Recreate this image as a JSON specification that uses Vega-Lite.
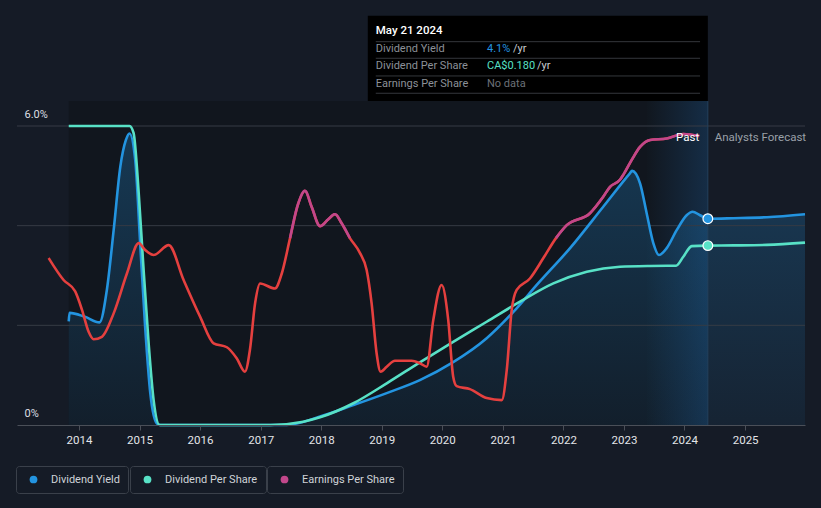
{
  "$schema": "https://vega.github.io/schema/vega-lite/v6.json",
  "width": 788,
  "height": 299,
  "autosize": {"type": "none"},
  "padding": {"left": 17, "top": 126, "right": 16, "bottom": 83},
  "background": "#151b26",
  "config": {"view": {"stroke": null}, "font": "Roboto", "text": {"font": "Roboto"}},
  "datasets": {
    "yield": [
      {"date": "2013-10-31", "yield": 2.08},
      {"date": "2013-11-05", "yield": 2.25},
      {"date": "2014-02-06", "yield": 2.17},
      {"date": "2014-05-05", "yield": 2.06},
      {"date": "2014-06-18", "yield": 2.71},
      {"date": "2014-07-29", "yield": 3.91},
      {"date": "2014-09-07", "yield": 5.18},
      {"date": "2014-10-11", "yield": 5.72},
      {"date": "2014-11-02", "yield": 5.85},
      {"date": "2014-12-06", "yield": 5.32},
      {"date": "2015-01-05", "yield": 3.65},
      {"date": "2015-02-04", "yield": 1.97},
      {"date": "2015-03-07", "yield": 0.64},
      {"date": "2015-04-16", "yield": 0.03},
      {"date": "2015-05-06", "yield": 0},
      {"date": "2016-01-01", "yield": 0},
      {"date": "2017-01-01", "yield": 0},
      {"date": "2017-06-07", "yield": 0},
      {"date": "2017-12-25", "yield": 0.17},
      {"date": "2018-07-14", "yield": 0.4},
      {"date": "2019-01-31", "yield": 0.64},
      {"date": "2019-08-19", "yield": 0.9},
      {"date": "2020-03-07", "yield": 1.26},
      {"date": "2020-09-25", "yield": 1.74},
      {"date": "2021-03-05", "yield": 2.27},
      {"date": "2021-07-24", "yield": 2.81},
      {"date": "2022-02-10", "yield": 3.55},
      {"date": "2022-08-29", "yield": 4.38},
      {"date": "2023-02-06", "yield": 5.05},
      {"date": "2023-02-19", "yield": 5.1},
      {"date": "2023-04-08", "yield": 4.85},
      {"date": "2023-05-18", "yield": 4.25},
      {"date": "2023-06-27", "yield": 3.65},
      {"date": "2023-07-31", "yield": 3.41},
      {"date": "2023-09-16", "yield": 3.55},
      {"date": "2023-11-15", "yield": 3.91},
      {"date": "2024-01-14", "yield": 4.21},
      {"date": "2024-02-19", "yield": 4.28},
      {"date": "2024-04-04", "yield": 4.21},
      {"date": "2024-05-21", "yield": 4.14},
      {"date": "2024-10-22", "yield": 4.15},
      {"date": "2025-05-12", "yield": 4.17},
      {"date": "2025-12-28", "yield": 4.23}
    ],
    "dps": [
      {"date": "2013-10-31", "dps": 0.3},
      {"date": "2014-11-02", "dps": 0.3},
      {"date": "2014-11-26", "dps": 0.293},
      {"date": "2014-12-27", "dps": 0.233},
      {"date": "2015-01-22", "dps": 0.165},
      {"date": "2015-02-25", "dps": 0.082},
      {"date": "2015-03-27", "dps": 0.025},
      {"date": "2015-05-02", "dps": 0},
      {"date": "2016-01-01", "dps": 0},
      {"date": "2017-03-01", "dps": 0},
      {"date": "2017-09-15", "dps": 0.0033},
      {"date": "2017-12-25", "dps": 0.0077},
      {"date": "2018-07-14", "dps": 0.0218},
      {"date": "2019-01-31", "dps": 0.0418},
      {"date": "2019-08-19", "dps": 0.0629},
      {"date": "2020-03-07", "dps": 0.0835},
      {"date": "2020-09-25", "dps": 0.1036},
      {"date": "2021-04-14", "dps": 0.1237},
      {"date": "2021-11-01", "dps": 0.1421},
      {"date": "2022-05-22", "dps": 0.1538},
      {"date": "2022-12-08", "dps": 0.1588},
      {"date": "2023-06-07", "dps": 0.1596},
      {"date": "2023-11-11", "dps": 0.1598},
      {"date": "2023-12-25", "dps": 0.1688},
      {"date": "2024-02-14", "dps": 0.1795},
      {"date": "2024-05-21", "dps": 0.18},
      {"date": "2024-10-22", "dps": 0.1802},
      {"date": "2025-05-12", "dps": 0.1807},
      {"date": "2025-12-28", "dps": 0.183}
    ],
    "eps": [
      {"date": "2013-07-02", "eps": 3.35},
      {"date": "2013-09-30", "eps": 2.91},
      {"date": "2013-12-09", "eps": 2.68},
      {"date": "2014-01-19", "eps": 2.31},
      {"date": "2014-02-28", "eps": 1.87},
      {"date": "2014-03-30", "eps": 1.72},
      {"date": "2014-05-19", "eps": 1.77},
      {"date": "2014-07-29", "eps": 2.24},
      {"date": "2014-10-17", "eps": 3.04},
      {"date": "2014-12-27", "eps": 3.65},
      {"date": "2015-02-04", "eps": 3.51},
      {"date": "2015-03-27", "eps": 3.41},
      {"date": "2015-06-26", "eps": 3.61},
      {"date": "2015-09-24", "eps": 2.91},
      {"date": "2016-01-02", "eps": 2.17},
      {"date": "2016-03-23", "eps": 1.64},
      {"date": "2016-06-11", "eps": 1.56},
      {"date": "2016-08-09", "eps": 1.34},
      {"date": "2016-09-28", "eps": 1.07},
      {"date": "2016-10-28", "eps": 1.51},
      {"date": "2016-11-28", "eps": 2.44},
      {"date": "2016-12-28", "eps": 2.84},
      {"date": "2017-03-28", "eps": 2.74},
      {"date": "2017-05-08", "eps": 3.04},
      {"date": "2017-06-27", "eps": 3.75},
      {"date": "2017-08-16", "eps": 4.45},
      {"date": "2017-09-25", "eps": 4.7},
      {"date": "2017-11-04", "eps": 4.38},
      {"date": "2017-12-25", "eps": 3.99},
      {"date": "2018-02-13", "eps": 4.13},
      {"date": "2018-03-25", "eps": 4.23},
      {"date": "2018-05-04", "eps": 4.05},
      {"date": "2018-06-23", "eps": 3.75},
      {"date": "2018-08-23", "eps": 3.45},
      {"date": "2018-10-02", "eps": 3.11},
      {"date": "2018-11-01", "eps": 2.44},
      {"date": "2018-12-01", "eps": 1.44},
      {"date": "2018-12-25", "eps": 1.07},
      {"date": "2019-01-31", "eps": 1.17},
      {"date": "2019-03-22", "eps": 1.29},
      {"date": "2019-06-30", "eps": 1.29},
      {"date": "2019-08-19", "eps": 1.24},
      {"date": "2019-09-29", "eps": 1.17},
      {"date": "2019-11-08", "eps": 2.11},
      {"date": "2019-12-28", "eps": 2.81},
      {"date": "2020-02-06", "eps": 2.11},
      {"date": "2020-03-07", "eps": 0.97},
      {"date": "2020-03-28", "eps": 0.78},
      {"date": "2020-06-16", "eps": 0.72},
      {"date": "2020-09-25", "eps": 0.54},
      {"date": "2020-12-25", "eps": 0.5},
      {"date": "2021-01-24", "eps": 1.1},
      {"date": "2021-02-23", "eps": 2.31},
      {"date": "2021-03-25", "eps": 2.71},
      {"date": "2021-06-13", "eps": 2.94},
      {"date": "2021-09-02", "eps": 3.35},
      {"date": "2021-11-17", "eps": 3.75},
      {"date": "2022-01-21", "eps": 4.01},
      {"date": "2022-06-10", "eps": 4.25},
      {"date": "2022-08-29", "eps": 4.58},
      {"date": "2022-10-09", "eps": 4.78},
      {"date": "2022-12-08", "eps": 4.92},
      {"date": "2022-12-28", "eps": 5.02},
      {"date": "2023-02-17", "eps": 5.32},
      {"date": "2023-04-08", "eps": 5.58},
      {"date": "2023-06-08", "eps": 5.72},
      {"date": "2023-09-16", "eps": 5.75},
      {"date": "2023-12-25", "eps": 5.84},
      {"date": "2024-03-30", "eps": 5.8}
    ]
  },
  "layer": [
    {
      "layer": [
        {
          "data": {"values": [{}]},
          "mark": {"type": "rect", "color": "#11161e"},
          "encoding": {
            "x": {"datum": {"year": 2013, "month": 10, "date": 31, "utc": true}, "type": "temporal"},
            "x2": {"datum": {"year": 2023, "month": 5, "date": 20, "utc": true}},
            "y": {"datum": 0, "type": "quantitative"},
            "y2": {"datum": 6.5}
          }
        },
        {
          "data": {"values": [{}]},
          "mark": {"type": "rect", "color": {"gradient": "linear", "x1": 0, "y1": 0, "x2": 1, "y2": 0, "stops": [{"offset": 0, "color": "#11171f"}, {"offset": 1, "color": "#152d46"}]}},
          "encoding": {
            "x": {"datum": {"year": 2023, "month": 5, "date": 20, "utc": true}, "type": "temporal"},
            "x2": {"datum": {"year": 2024, "month": 5, "date": 21, "utc": true}},
            "y": {"datum": 0, "type": "quantitative"},
            "y2": {"datum": 6.5}
          }
        },
        {
          "data": {"name": "yield"},
          "mark": {"type": "area", "interpolate": "monotone", "color": {"gradient": "linear", "x1": 0, "y1": 0, "x2": 0, "y2": 1, "stops": [{"offset": 0, "color": "rgba(35,148,224,0.28)"}, {"offset": 1, "color": "rgba(35,148,224,0.07)"}]}},
          "encoding": {
            "x": {
              "field": "date", "type": "temporal",
              "scale": {"type": "utc", "nice": false, "domain": [{"year": 2012, "month": 12, "date": 23, "utc": true}, {"year": 2025, "month": 12, "date": 28, "utc": true}]},
              "axis": {
                "title": null, "format": "%Y", "grid": false, "zindex": 1, "labelFlush": false,
                "values": [
                  {"year": 2014, "utc": true}, {"year": 2015, "utc": true}, {"year": 2016, "utc": true},
                  {"year": 2017, "utc": true}, {"year": 2018, "utc": true}, {"year": 2019, "utc": true},
                  {"year": 2020, "utc": true}, {"year": 2021, "utc": true}, {"year": 2022, "utc": true},
                  {"year": 2023, "utc": true}, {"year": 2024, "utc": true}, {"year": 2025, "utc": true}
                ],
                "domainColor": "#4a4f58", "tickColor": "#4a4f58", "tickSize": 5,
                "labelColor": "#e3e5e8", "labelFontSize": 11.5, "labelFont": "Roboto", "labelPadding": 4
              }
            },
            "y": {
              "field": "yield", "type": "quantitative",
              "scale": {"domain": [0, 6], "nice": false, "zero": false},
              "axis": {
                "title": null, "values": [0, 6], "labelExpr": "datum.value == 6 ? '6.0%' : '0%'",
                "domain": false, "ticks": false, "grid": false, "labelFlush": false,
                "labelAlign": "left", "labelPadding": -7, "labelBaseline": "middle", "labelOffset": -12,
                "labelColor": "#dcdfe3", "labelFontSize": 11, "labelFont": "Roboto"
              }
            }
          }
        },
        {
          "data": {"values": [{"grid": 2}, {"grid": 4}, {"grid": 6}]},
          "mark": {"type": "rule", "color": "#363b44", "strokeWidth": 1},
          "encoding": {"y": {"field": "grid", "type": "quantitative"}}
        },
        {
          "data": {"values": [{}]},
          "mark": {"type": "rule", "color": "#24405c", "strokeWidth": 1},
          "encoding": {
            "x": {"datum": {"year": 2024, "month": 5, "date": 21, "utc": true}, "type": "temporal"},
            "y": {"datum": 0, "type": "quantitative"},
            "y2": {"datum": 6.5}
          }
        },
        {
          "data": {"name": "yield"},
          "mark": {"type": "line", "interpolate": "monotone", "strokeWidth": 2.6},
          "encoding": {
            "x": {"field": "date", "type": "temporal"},
            "y": {"field": "yield", "type": "quantitative"},
            "stroke": {
              "datum": "Dividend Yield", "type": "nominal",
              "scale": {"range": ["#2394e0"]},
              "legend": {
                "orient": "none", "legendX": -1, "legendY": 340, "title": null,
                "symbolType": "circle", "symbolSize": 60, "symbolOffset": 4, "labelOffset": 12,
                "symbolFillColor": "#2394e0", "symbolStrokeColor": "#2394e0", "symbolStrokeWidth": 0,
                "labelFontSize": 11, "labelFont": "Roboto", "labelColor": "#cfd3d8",
                "padding": 8, "strokeColor": "#3a404a", "cornerRadius": 3,
                "encode": {"symbols": {"update": {"fill": {"value": "#2394e0"}, "stroke": {"value": "#2394e0"}, "strokeWidth": {"value": 0}, "opacity": {"value": 1}}}}
              }
            }
          }
        },
        {
          "data": {"values": [{}]},
          "mark": {"type": "point", "filled": true, "size": 95, "fill": "#2394e0", "stroke": "#ffffff", "strokeWidth": 1.2, "opacity": 1},
          "encoding": {
            "x": {"datum": {"year": 2024, "month": 5, "date": 21, "utc": true}, "type": "temporal"},
            "y": {"datum": 4.14, "type": "quantitative"}
          }
        },
        {
          "data": {"values": [{}]},
          "mark": {"type": "rect", "color": "#000000"},
          "encoding": {
            "x": {"datum": {"year": 2018, "month": 10, "date": 9, "utc": true}, "type": "temporal"},
            "x2": {"datum": {"year": 2024, "month": 5, "date": 21, "utc": true}},
            "y": {"datum": 6.5, "type": "quantitative"},
            "y2": {"datum": 8.21}
          }
        },
        {
          "data": {"values": [{}]},
          "mark": {"type": "rule", "color": "#34373c", "strokeWidth": 1},
          "encoding": {
            "x": {"datum": {"year": 2018, "month": 11, "date": 26, "utc": true}, "type": "temporal"},
            "x2": {"datum": {"year": 2024, "month": 4, "date": 4, "utc": true}},
            "y": {"datum": 7.692, "type": "quantitative"}
          }
        },
        {
          "data": {"values": [{}]},
          "mark": {"type": "rule", "color": "#34373c", "strokeWidth": 1},
          "encoding": {
            "x": {"datum": {"year": 2018, "month": 11, "date": 26, "utc": true}, "type": "temporal"},
            "x2": {"datum": {"year": 2024, "month": 4, "date": 4, "utc": true}},
            "y": {"datum": 7.359, "type": "quantitative"}
          }
        },
        {
          "data": {"values": [{}]},
          "mark": {"type": "rule", "color": "#34373c", "strokeWidth": 1},
          "encoding": {
            "x": {"datum": {"year": 2018, "month": 11, "date": 26, "utc": true}, "type": "temporal"},
            "x2": {"datum": {"year": 2024, "month": 4, "date": 4, "utc": true}},
            "y": {"datum": 7.004, "type": "quantitative"}
          }
        },
        {
          "data": {"values": [{}]},
          "mark": {"type": "rule", "color": "#34373c", "strokeWidth": 1},
          "encoding": {
            "x": {"datum": {"year": 2018, "month": 11, "date": 26, "utc": true}, "type": "temporal"},
            "x2": {"datum": {"year": 2024, "month": 4, "date": 4, "utc": true}},
            "y": {"datum": 6.657, "type": "quantitative"}
          }
        },
        {
          "data": {"values": [{}]},
          "mark": {"type": "text", "align": "left", "baseline": "middle", "fontSize": 11.5, "fontWeight": 500, "color": "#ffffff"},
          "encoding": {
            "x": {"datum": {"year": 2018, "month": 11, "date": 26, "utc": true}, "type": "temporal"},
            "y": {"datum": 7.907, "type": "quantitative"},
            "text": {"value": "May 21 2024"}
          }
        },
        {
          "data": {"values": [{}]},
          "mark": {"type": "text", "align": "left", "baseline": "middle", "fontSize": 11, "color": "#8c9198"},
          "encoding": {
            "x": {"datum": {"year": 2018, "month": 11, "date": 26, "utc": true}, "type": "temporal"},
            "y": {"datum": 7.546, "type": "quantitative"},
            "text": {"value": "Dividend Yield"}
          }
        },
        {
          "data": {"values": [{}]},
          "mark": {"type": "text", "align": "left", "baseline": "middle", "fontSize": 11, "color": "#8c9198"},
          "encoding": {
            "x": {"datum": {"year": 2018, "month": 11, "date": 26, "utc": true}, "type": "temporal"},
            "y": {"datum": 7.204, "type": "quantitative"},
            "text": {"value": "Dividend Per Share"}
          }
        },
        {
          "data": {"values": [{}]},
          "mark": {"type": "text", "align": "left", "baseline": "middle", "fontSize": 11, "color": "#8c9198"},
          "encoding": {
            "x": {"datum": {"year": 2018, "month": 11, "date": 26, "utc": true}, "type": "temporal"},
            "y": {"datum": 6.843, "type": "quantitative"},
            "text": {"value": "Earnings Per Share"}
          }
        },
        {
          "data": {"values": [{}]},
          "mark": {"type": "text", "align": "left", "baseline": "middle", "fontSize": 11, "color": "#2394e0"},
          "encoding": {
            "x": {"datum": {"year": 2020, "month": 9, "date": 27, "utc": true}, "type": "temporal"},
            "y": {"datum": 7.546, "type": "quantitative"},
            "text": {"value": "4.1%"}
          }
        },
        {
          "data": {"values": [{}]},
          "mark": {"type": "text", "align": "left", "baseline": "middle", "fontSize": 11, "color": "#58e1c6"},
          "encoding": {
            "x": {"datum": {"year": 2020, "month": 9, "date": 27, "utc": true}, "type": "temporal"},
            "y": {"datum": 7.204, "type": "quantitative"},
            "text": {"value": "CA$0.180"}
          }
        },
        {
          "data": {"values": [{}]},
          "mark": {"type": "text", "align": "left", "baseline": "middle", "fontSize": 11, "color": "#6c7178"},
          "encoding": {
            "x": {"datum": {"year": 2020, "month": 9, "date": 27, "utc": true}, "type": "temporal"},
            "y": {"datum": 6.843, "type": "quantitative"},
            "text": {"value": "No data"}
          }
        },
        {
          "data": {"values": [{}]},
          "mark": {"type": "text", "align": "left", "baseline": "middle", "fontSize": 11, "color": "#c9ccd0"},
          "encoding": {
            "x": {"datum": {"year": 2021, "month": 3, "date": 3, "utc": true}, "type": "temporal"},
            "y": {"datum": 7.546, "type": "quantitative"},
            "text": {"value": "/yr"}
          }
        },
        {
          "data": {"values": [{}]},
          "mark": {"type": "text", "align": "left", "baseline": "middle", "fontSize": 11, "color": "#c9ccd0"},
          "encoding": {
            "x": {"datum": {"year": 2021, "month": 7, "date": 26, "utc": true}, "type": "temporal"},
            "y": {"datum": 7.204, "type": "quantitative"},
            "text": {"value": "/yr"}
          }
        }
      ]
    },
    {
      "layer": [
        {
          "data": {"name": "dps"},
          "mark": {"type": "line", "interpolate": "monotone", "strokeWidth": 2.6},
          "encoding": {
            "x": {"field": "date", "type": "temporal"},
            "y": {"field": "dps", "type": "quantitative", "scale": {"domain": [0, 0.3], "nice": false, "zero": false}, "axis": null},
            "color": {
              "datum": "Dividend Per Share", "type": "nominal",
              "scale": {"range": ["#58e1c6"]},
              "legend": {
                "orient": "none", "legendX": 113, "legendY": 340, "title": null,
                "symbolType": "circle", "symbolSize": 60, "symbolOffset": 4, "labelOffset": 12,
                "symbolFillColor": "#58e1c6", "symbolStrokeColor": "#58e1c6", "symbolStrokeWidth": 0,
                "labelFontSize": 11, "labelFont": "Roboto", "labelColor": "#cfd3d8",
                "padding": 8, "strokeColor": "#3a404a", "cornerRadius": 3,
                "encode": {"symbols": {"update": {"fill": {"value": "#58e1c6"}, "stroke": {"value": "#58e1c6"}, "strokeWidth": {"value": 0}, "opacity": {"value": 1}}}}
              }
            }
          }
        },
        {
          "data": {"values": [{}]},
          "mark": {"type": "point", "filled": true, "size": 95, "fill": "#58e1c6", "stroke": "#ffffff", "strokeWidth": 1.2, "opacity": 1},
          "encoding": {
            "x": {"datum": {"year": 2024, "month": 5, "date": 21, "utc": true}, "type": "temporal"},
            "y": {"datum": 0.18, "type": "quantitative", "axis": null}
          }
        }
      ]
    },
    {
      "layer": [
        {
          "data": {"name": "eps"},
          "mark": {"type": "line", "interpolate": "monotone", "strokeWidth": 2.6, "color": "#e5403f"},
          "encoding": {
            "x": {"field": "date", "type": "temporal"},
            "y": {"field": "eps", "type": "quantitative", "scale": {"domain": [0, 6], "nice": false, "zero": false}, "axis": null}
          }
        },
        {
          "data": {"name": "eps"},
          "transform": [{"filter": "datum.eps >= 3.749 && toDate(datum.date) < utc(2020, 0, 1)"}],
          "mark": {"type": "line", "interpolate": "monotone", "strokeWidth": 2.6, "color": "#c2478b"},
          "encoding": {
            "x": {"field": "date", "type": "temporal"},
            "y": {"field": "eps", "type": "quantitative", "axis": null},
            "strokeDash": {
              "datum": "Earnings Per Share", "type": "nominal",
              "scale": {"range": [[1, 0]]},
              "legend": {
                "orient": "none", "legendX": 250, "legendY": 340, "title": null,
                "symbolType": "circle", "symbolSize": 60, "symbolOffset": 4, "labelOffset": 12,
                "symbolFillColor": "#c2478b", "symbolStrokeColor": "#c2478b", "symbolStrokeWidth": 0,
                "labelFontSize": 11, "labelFont": "Roboto", "labelColor": "#cfd3d8",
                "padding": 8, "strokeColor": "#3a404a", "cornerRadius": 3,
                "encode": {"symbols": {"update": {"fill": {"value": "#c2478b"}, "stroke": {"value": "#c2478b"}, "strokeWidth": {"value": 0}, "opacity": {"value": 1}}}}
              }
            }
          }
        },
        {
          "data": {"name": "eps"},
          "transform": [{"filter": "datum.eps >= 3.749 && toDate(datum.date) > utc(2020, 0, 1)"}],
          "mark": {"type": "line", "interpolate": "monotone", "strokeWidth": 2.6, "color": "#c2478b"},
          "encoding": {
            "x": {"field": "date", "type": "temporal"},
            "y": {"field": "eps", "type": "quantitative", "axis": null}
          }
        },
        {
          "data": {"values": [{}]},
          "mark": {"type": "text", "align": "right", "baseline": "middle", "fontSize": 11.5, "color": "#ffffff"},
          "encoding": {
            "x": {"datum": {"year": 2024, "month": 3, "date": 30, "utc": true}, "type": "temporal"},
            "y": {"datum": 5.76, "type": "quantitative", "axis": null},
            "text": {"value": "Past"}
          }
        },
        {
          "data": {"values": [{}]},
          "mark": {"type": "text", "align": "left", "baseline": "middle", "fontSize": 11.5, "color": "#9aa0a8"},
          "encoding": {
            "x": {"datum": {"year": 2024, "month": 7, "date": 1, "utc": true}, "type": "temporal"},
            "y": {"datum": 5.76, "type": "quantitative", "axis": null},
            "text": {"value": "Analysts Forecast"}
          }
        }
      ]
    }
  ],
  "resolve": {"scale": {"y": "independent"}}
}
